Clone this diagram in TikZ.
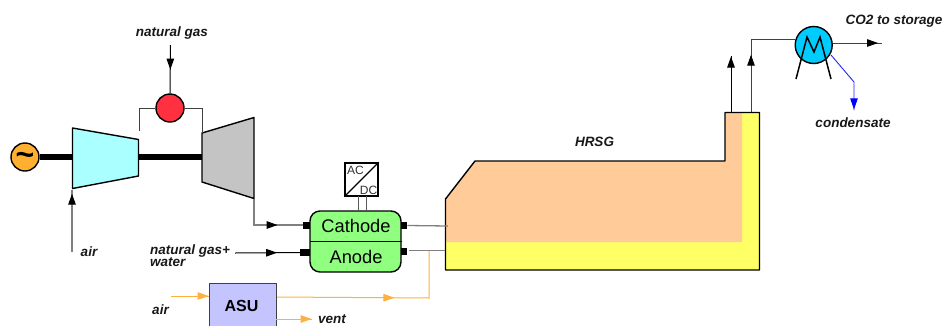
\documentclass[tikz,border=0pt]{standalone}
\usepackage{fontspec}
\setmainfont{Liberation Sans}
\usetikzlibrary{arrows.meta,decorations.markings,shapes.geometric}
\definecolor{pipegrey}{HTML}{808080}
\definecolor{flow}{HTML}{FFB040}
\definecolor{hrsgyellow}{HTML}{FFFF66}
\definecolor{hrsgpeach}{HTML}{FFCC99}
\tikzset{
  x=1pt,y=-1pt,
  outline/.style={draw=black,line width=1.4pt,line join=round},
  pipe/.style={draw=#1,line width=1.3pt,line join=miter},
  pipe/.default=pipegrey,
  thinpipe/.style={draw=#1,line width=1pt,line join=miter},
  shaft/.style={line width=5.5pt,draw=black},
  midarrow/.style 2 args={postaction={decorate},decoration={markings,mark=at position #1 with {\arrow{Triangle[length=11pt,width=7.5pt,color=#2]}}}},
  label/.style={font=\fontsize{13.5}{13.5}\selectfont\bfseries\itshape,inner sep=0pt,text=black!90},
  port/.style={fill=black,draw=none,inner sep=0pt,minimum width=#1,minimum height=7pt},
  round/.style={circle,outline,inner sep=0pt},
}
\begin{document}
\begin{tikzpicture}
\useasboundingbox[fill=white] (0,0) rectangle (943,325);
% HRSG
\fill[hrsgyellow] (445.5,199) -- (475,161) -- (725,161) -- (725,112.5) -- (759.5,112.5) -- (759.5,270) -- (445.5,270) -- cycle;
\fill[hrsgpeach] (445.5,199) -- (475,161) -- (725,161) -- (725,112.5) -- (742,112.5) -- (742,242) -- (445.5,242) -- cycle;
\draw[outline] (445.5,199) -- (475,161) -- (725,161) -- (725,112.5) -- (759.5,112.5) -- (759.5,270) -- (445.5,270) -- cycle;
\node[label] (hrsgl) at (594.5,142) {HRSG};
\coordinate (hrsgcath) at (448,226);
\coordinate (hrsgan) at (445,250.5);
\coordinate (stackA) at (731,112);
\coordinate (stackB) at (751,112);
\coordinate (stackAtop) at (731,56);
\coordinate (stackBtop) at (751,39.5);
% shaft
\node[round,fill={rgb,255:red,255;green,176;blue,48},minimum size=28pt] (gen) at (25,157) {};
\node[font=\fontsize{32}{32}\selectfont\bfseries,inner sep=0pt] (tilde) at (25,158.5) {\char"007E};
\coordinate (compL) at (72.5,157);
\coordinate (compR) at (138.5,157);
\coordinate (turbL) at (202,157);
\draw[shaft] (gen) -- (compL);
\draw[shaft] (compR) -- (turbL);
\draw[outline,fill={rgb,255:red,170;green,255;blue,255}] (72.5,128) -- (138.5,139.5) -- (138.5,176) -- (72.5,188.5) -- cycle;
\draw[outline,fill={rgb,255:red,196;green,196;blue,196}] (202,133) -- (254,117.5) -- (254,198.5) -- (202,182) -- cycle;
% combustor
\node[round,fill={rgb,255:red,255;green,48;blue,64},minimum size=28pt] (comb) at (170,108) {};
\coordinate (compOut) at (139.5,131);
\coordinate (turbIn) at (202,133);
\draw[thinpipe=black!75] (comb.west) -- (139.5,108) -- (compOut);
\draw[thinpipe=black!75] (comb.east) -- (202,108) -- (turbIn);
\node[label] (ngl) at (172,33) {natural gas};
\coordinate (ngstart) at (170.5,45);
\draw[thinpipe=black,midarrow={0.51}{black}] (ngstart) -- (comb.north);
\node[label] (airl) at (89,252) {air};
\coordinate (airstart) at (72,252);
\coordinate (airend) at (72,190);
\draw[pipe,midarrow={0.94}{black}] (airstart) -- (airend);
% fuel cell
\node[draw=black,line width=1.4pt,fill={rgb,255:red,144;green,255;blue,128},rounded corners=10pt,minimum width=91pt,minimum height=61pt,inner sep=0pt] (fc) at (355.5,241.5) {};
\draw[line width=.9pt] (310,241) -- (402,241);
\node[font=\fontsize{18.3}{18.3}\selectfont,inner sep=0pt] (cath) at (356,226) {Cathode};
\node[font=\fontsize{18.3}{18.3}\selectfont,inner sep=0pt] (anod) at (356,257) {Anode};
\node[port=7pt] (pcl) at (306.5,225) {};
\node[port=10pt] (pal) at (305,252.5) {};
\node[port=6.5pt] (pcr) at (404,225.5) {};
\node[port=6.5pt] (par) at (404,251.5) {};
\coordinate (turbOut) at (254,198.5);
\draw[pipe,midarrow={0.665}{black}] (turbOut) -- (254,225) -- (pcl.west);
\node[label,align=left,anchor=north west,font=\fontsize{13.5}{12}\selectfont\bfseries\itshape] (ngw) at (150,245) {natural gas+\\water};
\coordinate (ngwstart) at (235,253);
\draw[thinpipe=black,midarrow={0.65}{black}] (ngwstart) -- (pal.west);
\draw[pipe] (pcr.east) -- (hrsgcath);
\coordinate (parout) at (409,250.5);
\draw[pipe] (parout) -- (hrsgan);
% AC/DC
\node[draw=black,line width=1.3pt,fill=white,minimum size=33pt,inner sep=0pt] (acdc) at (361.5,179.5) {};
\draw[line width=1.1pt] (acdc.south west) -- (acdc.north east);
\node[font=\fontsize{12}{12}\selectfont,inner sep=0pt,text=black!80] (ac) at (355.5,170) {AC};
\node[font=\fontsize{12}{12}\selectfont,inner sep=0pt,text=black!80] (dc) at (368.5,190.5) {DC};
\coordinate (linkA) at (358.5,211);
\coordinate (linkB) at (366.5,211);
\draw[thinpipe=black!65] (358.5,196) -- (linkA);
\draw[thinpipe=black!65] (366.5,196) -- (linkB);
% ASU
\node[draw=black!75,line width=1.1pt,fill={rgb,255:red,196;green,196;blue,255},minimum width=67pt,minimum height=46pt,inner sep=0pt,anchor=north west] (asu) at (209,283) {};
\node[font=\fontsize{16}{16}\selectfont\bfseries,inner sep=0pt] (asul) at (241.5,306) {ASU};
\coordinate (airB) at (171,296);
\node[label] (airbl) at (160.5,310) {air};
\draw[thinpipe=flow,midarrow={0.99}{flow}] (airB) -- (asu.west |- airB);
\coordinate (asuO) at (277,297);
\coordinate (mix) at (429,251);
\draw[thinpipe=flow,midarrow={0.59}{flow}] (asuO) -- (429,298) -- (mix);
\coordinate (asuV) at (276,319);
\node[label,anchor=west] (ventl) at (318,319.5) {vent};
\coordinate (ventend) at (312,319);
\draw[thinpipe=flow,midarrow={0.99}{flow}] (asuV) -- (ventend);
% cooler
\node[round,fill={rgb,255:red,0;green,204;blue,255},minimum size=37pt] (cool) at (813.7,45) {};
\coordinate (legA) at (796,79);
\coordinate (legB) at (831,79);
\draw[line width=1.5pt,line join=miter] (legA) -- (807,37) -- (814,52) -- (820,37) -- (legB);
\draw[thinpipe=black,midarrow={0.99}{black}] (stackA) -- (stackAtop);
\draw[thinpipe=black!75,midarrow={0.79}{black}] (stackB) -- (stackBtop);
\draw[thinpipe=black!75] (stackBtop) -- (cool.west |- stackBtop);
\coordinate (co2end) at (882,43);
\draw[thinpipe=black!75,midarrow={0.92}{black}] (cool.east |- co2end) -- (co2end);
\node[label] (co2l) at (894,21.5) {CO2 to storage};
\coordinate (bleed) at (831,55);
\coordinate (condend) at (854,110);
\draw[draw=blue!85!white,line width=.9pt,midarrow={0.99}{blue}] (bleed) -- (854,82) -- (condend);
\node[label] (condl) at (853,122.5) {condensate};
\end{tikzpicture}
\end{document}
